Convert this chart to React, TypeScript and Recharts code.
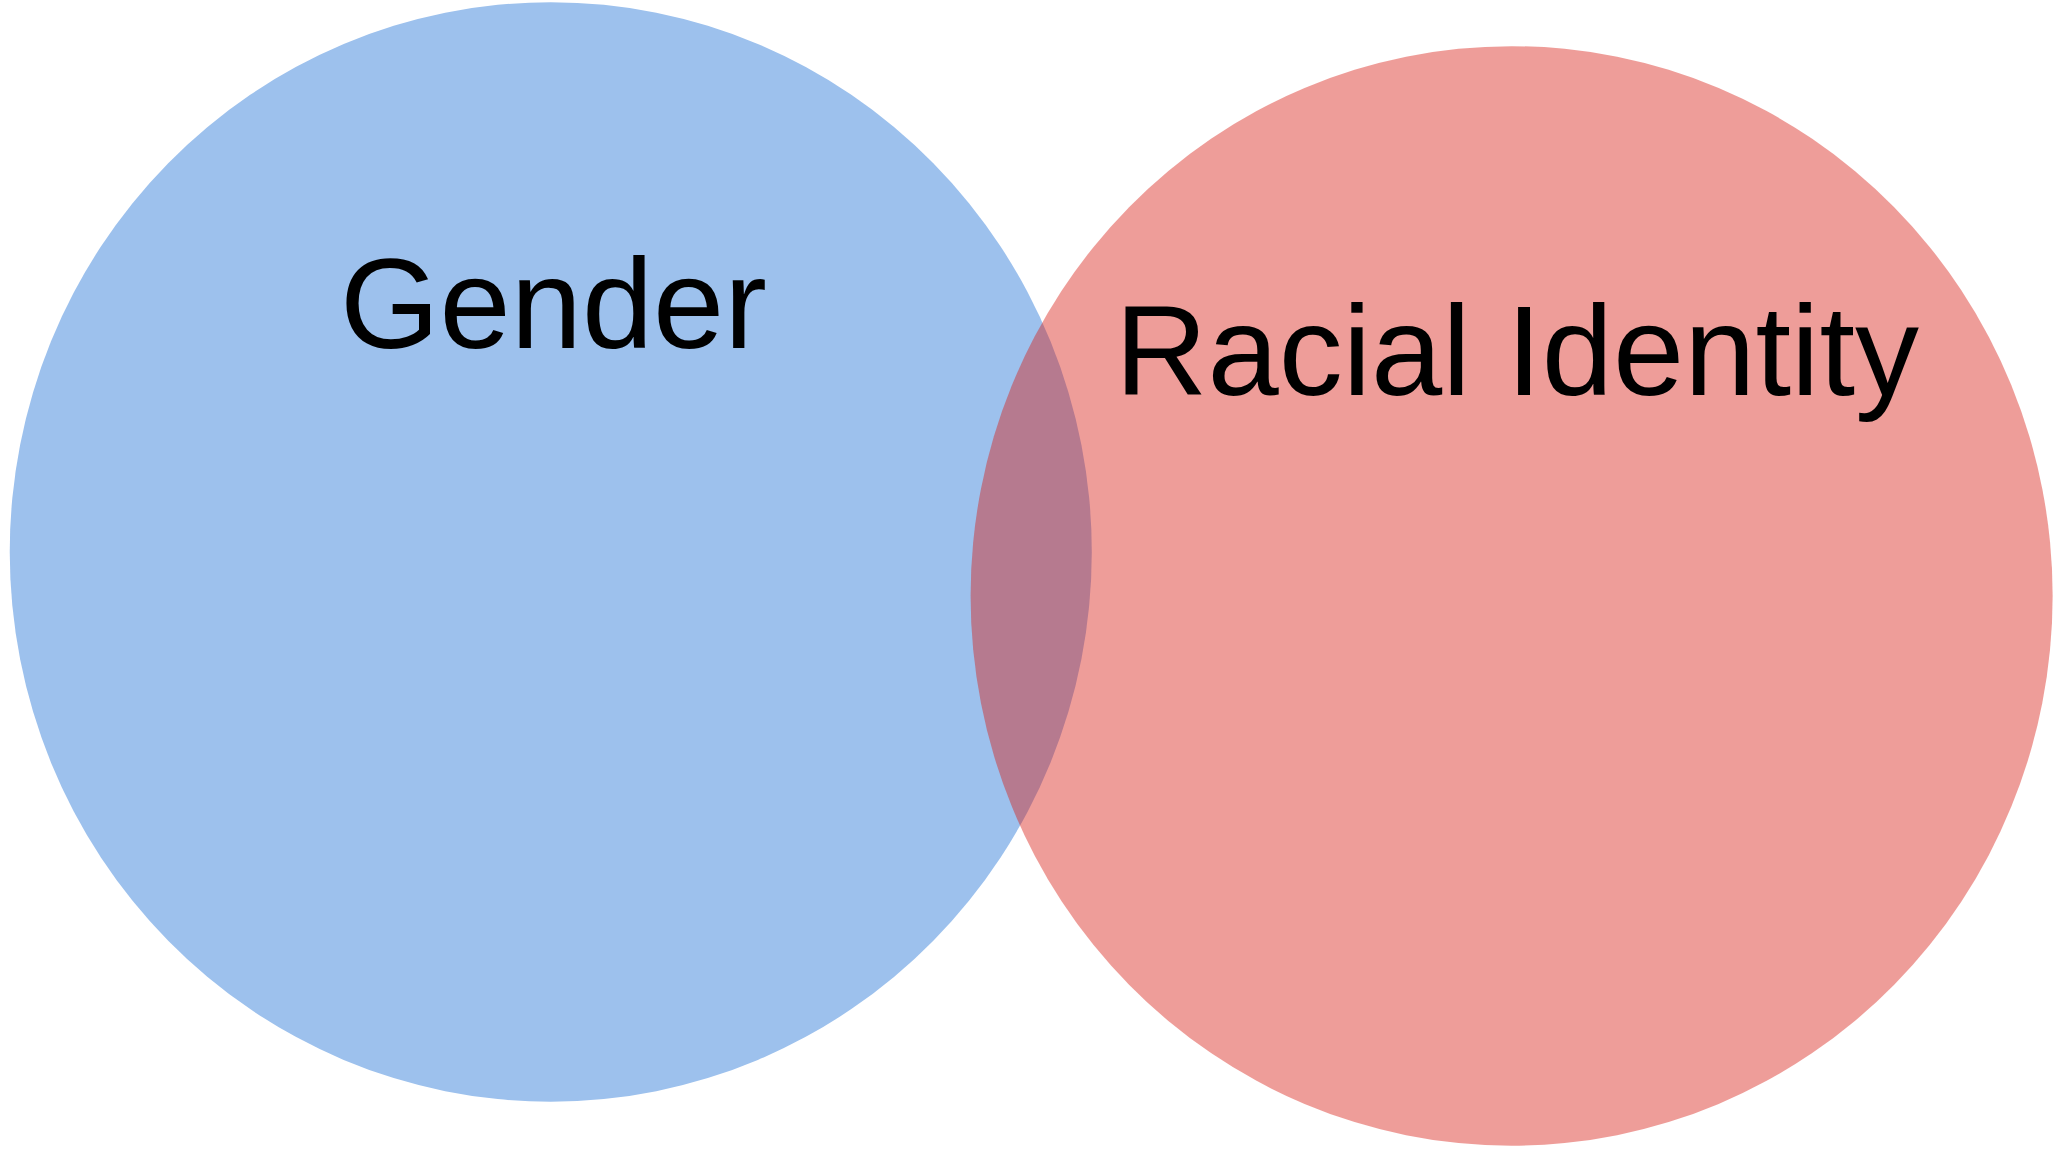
import { ScatterChart, Scatter, XAxis, YAxis } from 'recharts';

// two-set venn: circles in data units (radius 1), labels placed inside each set
const setNames = ['Gender', 'Racial Identity'];
const centerX = [0, 1.776];
const centerY = [0, -0.08];
const radius = [1, 1];
const labelX = [0.005, 1.786];
const labelY = [0.371, 0.285];

const fills = ['#9DC1ED', 'rgb(215,27,18)'];
const opacities = [1, 0.43];

const W = 2064;
const H = 1154;
const xDomain: [number, number] = [-1.018, 2.797];
const yDomain: [number, number] = [-1.095, 1.004];
const pxX = W / (xDomain[1] - xDomain[0]);
const pxY = H / (yDomain[1] - yDomain[0]);

const circles = setNames.map((name, i) => ({ name, x: centerX[i], y: centerY[i], r: radius[i] }));
const labels = setNames.map((name, i) => ({ name, x: labelX[i], y: labelY[i] }));

const SetCircle = (props: any) => {
  const { cx, cy, payload, index } = props;
  return (
    <ellipse
      cx={cx}
      cy={cy}
      rx={payload.r * pxX}
      ry={payload.r * pxY}
      fill={fills[index]}
      fillOpacity={opacities[index]}
    />
  );
};

const SetLabel = (props: any) => {
  const { cx, cy, payload } = props;
  return (
    <text
      x={cx}
      y={cy}
      textAnchor="middle"
      fontFamily="'Liberation Sans', Arial, sans-serif"
      fontSize={128}
      fill="#000"
    >
      {payload.name}
    </text>
  );
};

export default function App() {
  return (
    <div style={{ position: 'absolute', left: 0, top: 0, width: W, height: H, background: '#fff' }}>
      <ScatterChart width={W} height={H} margin={{ top: 0, right: 0, bottom: 0, left: 0 }}>
        <XAxis type="number" dataKey="x" domain={xDomain} scale="linear" allowDataOverflow hide />
        <YAxis type="number" dataKey="y" domain={yDomain} scale="linear" allowDataOverflow hide />
        <Scatter data={circles} shape={<SetCircle />} isAnimationActive={false} />
        <Scatter data={labels} shape={<SetLabel />} isAnimationActive={false} />
      </ScatterChart>
    </div>
  );
}
